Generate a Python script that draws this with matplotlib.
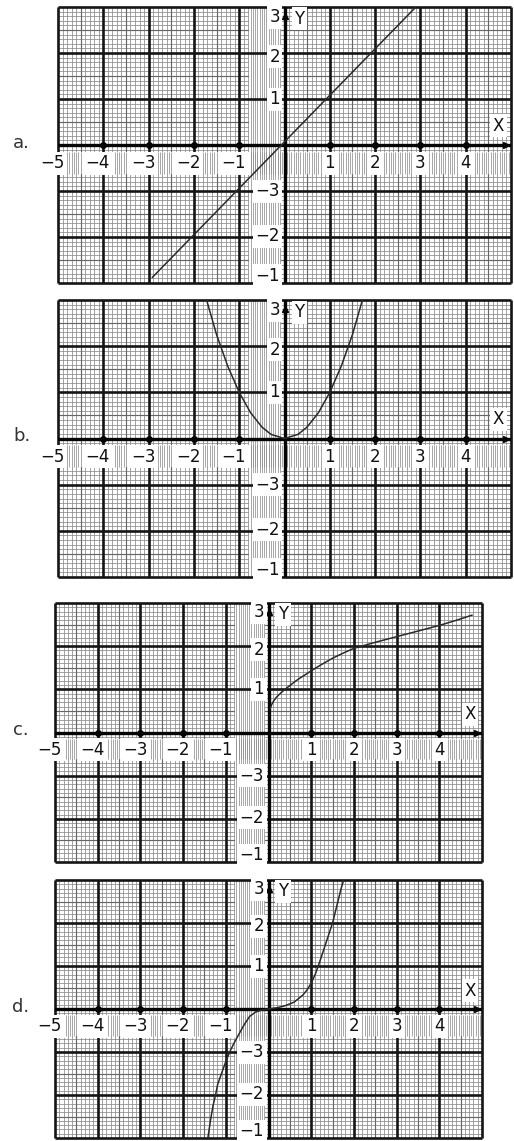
import numpy as np
import matplotlib
matplotlib.use("Agg")
import matplotlib.pyplot as plt
from matplotlib.patches import Rectangle
from matplotlib.transforms import blended_transform_factory

W, H = 514, 1141

# --- curves, values ---------------------------------------------------
A_X = [-2.92, 2.9]
A_Y = [-2.88, 3.0]

B_X = [-1.72, -1.5, -1.25, -1.0, -0.75, -0.5, -0.3, 0.0, 0.3, 0.5, 0.75, 1.0, 1.25, 1.5, 1.72]
B_Y = [3.0, 2.25, 1.56, 1.0, 0.56, 0.25, 0.09, 0.0, 0.09, 0.25, 0.56, 1.0, 1.56, 2.25, 3.0]

C_X = [0.04, 0.07, 0.12, 0.18, 0.26, 0.36, 0.49, 0.62, 0.75, 0.88, 1.0, 1.25, 1.5, 1.75,
       2.0, 2.5, 3.0, 3.5, 4.0, 4.4, 4.77]
C_Y = [0.55, 0.64, 0.73, 0.81, 0.89, 0.98, 1.08, 1.18, 1.27, 1.35, 1.43, 1.58, 1.72, 1.84,
       1.95, 2.09, 2.22, 2.35, 2.48, 2.6, 2.72]

D_X = [-1.42, -1.36, -1.3, -1.24, -1.19, -1.1, -1.0, -0.9, -0.8, -0.68, -0.56, -0.44,
       -0.3, -0.15, 0.0, 0.2, 0.4, 0.6, 0.8, 0.9, 1.0, 1.1, 1.2, 1.3, 1.4, 1.5, 1.6, 1.7, 1.76]
D_Y = [-3.0, -2.6, -2.25, -2.0, -1.75, -1.5, -1.22, -0.98, -0.78, -0.56, -0.35, -0.17,
       -0.07, -0.02, 0.0, 0.03, 0.08, 0.16, 0.32, 0.44, 0.6, 0.82, 1.1, 1.4, 1.7, 2.0, 2.4, 2.8, 3.0]

CURVES = [(A_X, A_Y), (B_X, B_Y), (C_X, C_Y), (D_X, D_Y)]
LETTERS = ["a.", "b.", "c.", "d."]

X_TICKS = [-5, -4, -3, -2, -1, 1, 2, 3, 4]
X_TICK_LABELS = ["−5", "−4", "−3", "−2", "−1", "1", "2", "3", "4"]
Y_TICK_LABELS = ["3", "2", "1", "−3", "−2", "−1"]
Y_TICK_AT = [2.78, 1.92, 1.0, -1.0, -1.98, -2.84]

# sheet boxes in pixels: left, top, right, bottom
BOXES = [(58, 7, 511, 283), (58, 300, 511, 577),
         (55, 603, 482, 862), (55, 880, 482, 1138)]

XMIN, XMAX, YMIN, YMAX = -5, 5, -3, 3

fig = plt.figure(figsize=(W / 100, H / 100), dpi=100)
fig.patch.set_facecolor("white")

box = dict(boxstyle="square,pad=0.15", fc="white", ec="none")


def graph_sheet(ax):
    """millimetre paper: fine lines, half-unit lines, unit lines"""
    fine = np.round(np.arange(XMIN, XMAX + 0.001, 0.1), 2)
    fine_y = np.round(np.arange(YMIN, YMAX + 0.001, 0.1), 2)
    ax.vlines(fine, YMIN, YMAX, lw=0.55, color="#8a8a8a", zorder=1)
    ax.hlines(fine_y, XMIN, XMAX, lw=0.55, color="#8a8a8a", zorder=1)
    ax.vlines(np.arange(XMIN + 0.5, XMAX, 1.0), YMIN, YMAX, lw=0.85, color="#666", zorder=1.1)
    ax.hlines(np.arange(YMIN + 0.5, YMAX, 1.0), XMIN, XMAX, lw=0.85, color="#666", zorder=1.1)

    # light strips behind the tick numbers, ruled vertically only
    ax.add_patch(Rectangle((XMIN, -0.62), XMAX - XMIN, 0.47, fc="white", ec="none", zorder=1.2))
    ax.add_patch(Rectangle((-0.78, YMIN), 0.7, YMAX - YMIN, fc="white", ec="none", zorder=1.2))
    strips = np.arange(XMIN, XMAX, 0.05)
    ax.vlines(strips, -0.62, -0.15, lw=0.55, color="#909090", zorder=1.3)
    col = strips[(strips >= -0.78) & (strips <= -0.08)]
    ax.vlines(col, YMIN, YMAX, lw=0.55, color="#909090", zorder=1.3)

    ax.vlines(np.arange(XMIN, XMAX + 1), YMIN, YMAX, lw=1.9, color="#151515", zorder=2, clip_on=False)
    ax.hlines(np.arange(YMIN, YMAX + 1), XMIN, XMAX, lw=1.9, color="#151515", zorder=2, clip_on=False)

    # coordinate axes
    ax.axhline(0, color="#050505", lw=2.4, zorder=2.5)
    ax.axvline(0, color="#050505", lw=2.4, zorder=2.5)
    ax.plot(XMAX - 0.12, 0, marker=">", ms=5, color="#050505", zorder=2.6, clip_on=False)
    ax.plot(0, YMAX - 0.2, marker="^", ms=5, color="#050505", zorder=2.6)
    ax.plot(X_TICKS[1:], [0] * len(X_TICKS[1:]), "o", ms=4, color="#050505", zorder=2.6)


for i, (l, t, r, b) in enumerate(BOXES):
    ax = fig.add_axes([l / W, 1 - b / H, (r - l) / W, (b - t) / H])
    ax.set_xlim(XMIN, XMAX)
    ax.set_ylim(YMIN, YMAX)
    ax.axis("off")
    graph_sheet(ax)

    xs, ys = CURVES[i]
    ax.plot(xs, ys, color="#2a2a2a", lw=1.1, zorder=3,
            solid_capstyle="round", solid_joinstyle="round")

    for v, s in zip(X_TICKS, X_TICK_LABELS):
        off = -0.12 if v < 0 else 0.0
        ax.text(v + off, -0.4, s, ha="center", va="center", fontsize=12,
                color="#111", bbox=box, zorder=5, clip_on=False)
    for v, s in zip(Y_TICK_AT, Y_TICK_LABELS):
        ax.text(-0.1, v, s, ha="right", va="center", fontsize=12,
                color="#111", bbox=box, zorder=5)
    ax.text(0.22, 2.74, "Y", ha="left", va="center", fontsize=12,
            color="#111", bbox=box, zorder=5)
    ax.text(4.72, 0.42, "X", ha="center", va="center", fontsize=12,
            color="#111", bbox=box, zorder=5)

    tr = blended_transform_factory(ax.transAxes, ax.transData)
    ax.text(-0.08, 0.05, LETTERS[i], transform=tr, ha="center", va="center",
            fontsize=13, color="#333", zorder=5)

fig.savefig("out.png", dpi=100, facecolor="white")
